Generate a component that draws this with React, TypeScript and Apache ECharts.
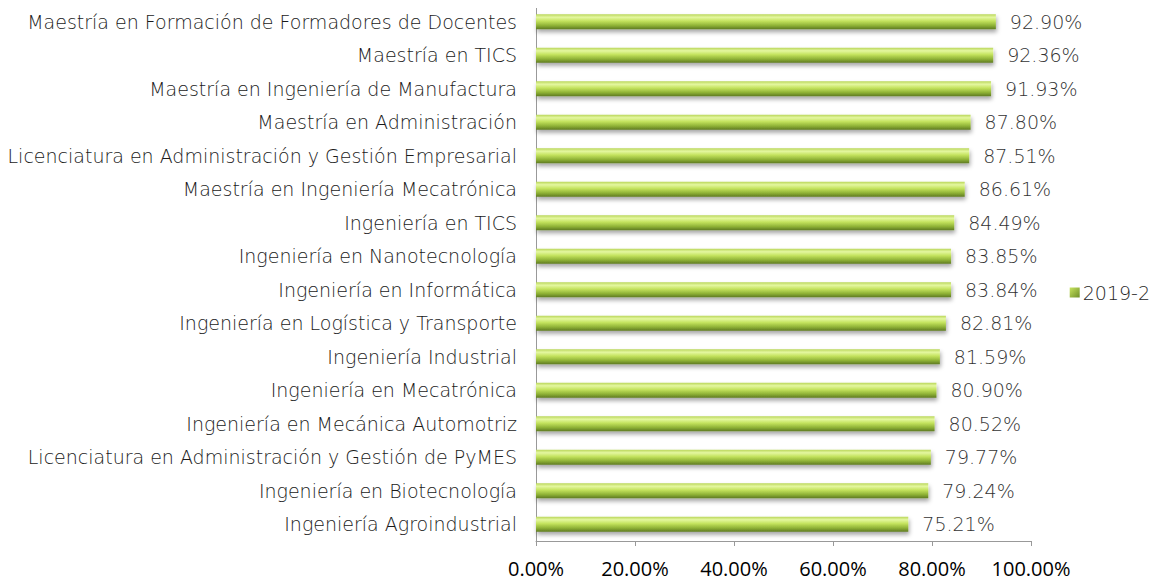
import React, { useEffect, useRef } from "react";
import * as echarts from "echarts";

const categories = [
  "Maestría en Formación de Formadores de Docentes",
  "Maestría en TICS",
  "Maestría en Ingeniería de Manufactura",
  "Maestría en Administración",
  "Licenciatura en Administración y Gestión Empresarial",
  "Maestría en Ingeniería Mecatrónica",
  "Ingeniería en TICS",
  "Ingeniería en Nanotecnología",
  "Ingeniería en Informática",
  "Ingeniería en Logística y Transporte",
  "Ingeniería Industrial",
  "Ingeniería en Mecatrónica",
  "Ingeniería en Mecánica Automotriz",
  "Licenciatura en Administración y Gestión de PyMES",
  "Ingeniería en Biotecnología",
  "Ingeniería Agroindustrial",
];

const values2019_2 = [
  92.9, 92.36, 91.93, 87.8, 87.51, 86.61, 84.49, 83.85, 83.84, 82.81, 81.59,
  80.9, 80.52, 79.77, 79.24, 75.21,
];

const seriesName = "2019-2";
const xTicks = [0, 20, 40, 60, 80, 100];

const lightFont = "DejaVu Sans";

export default function App() {
  const ref = useRef<HTMLDivElement>(null);
  useEffect(() => {
    if (!ref.current) return;
    const chart = echarts.init(ref.current, undefined, { renderer: "svg" });
    const barGrad = new echarts.graphic.LinearGradient(0, 0, 0, 1, [
      { offset: 0, color: "#b9d65a" },
      { offset: 0.2, color: "#e4f7a0" },
      { offset: 0.45, color: "#c4e35e" },
      { offset: 0.75, color: "#8fb236" },
      { offset: 1, color: "#5e7a22" },
    ]);
    const legendGrad = new echarts.graphic.LinearGradient(0, 0, 1, 1, [
      { offset: 0, color: "#c7e35f" },
      { offset: 1, color: "#6f8f28" },
    ]);
    chart.setOption({
      animation: false,
      backgroundColor: "#ffffff",
      grid: { left: 536, right: 128, top: 5, bottom: 45, containLabel: false },
      legend: {
        right: 4,
        top: 278,
        orient: "vertical",
        itemWidth: 10,
        itemHeight: 10,
        icon: "rect",
        itemGap: 4,
        textStyle: { fontFamily: lightFont, fontWeight: 200, fontSize: 19, color: "#262626", padding: [0, 0, 0, -2] },
        data: [{ name: seriesName, itemStyle: { color: legendGrad } }],
      },
      xAxis: {
        type: "value",
        min: 0,
        max: 100,
        interval: 20,
        axisLine: { show: true, lineStyle: { color: "#999999", width: 1 } },
        axisTick: { show: true, length: 5, lineStyle: { color: "#999999" } },
        splitLine: { show: false },
        axisLabel: {
          formatter: (v: number) => (xTicks.includes(v) ? v.toFixed(2) + "%" : ""),
          fontFamily: "Open Sans",
          fontSize: 20,
          color: "#000000",
          margin: 17,
        },
      },
      yAxis: {
        type: "category",
        inverse: true,
        data: categories,
        axisLine: { show: true, lineStyle: { color: "#999999", width: 1 } },
        axisTick: { show: false },
        axisLabel: {
          fontFamily: lightFont,
          fontWeight: 200,
          fontSize: 19,
          color: "#1a1a1a",
          margin: 19,
        },
      },
      series: [
        {
          name: seriesName,
          type: "bar",
          data: values2019_2,
          barWidth: 15,
          itemStyle: {
            color: barGrad,
            shadowColor: "rgba(0,0,0,0.35)",
            shadowBlur: 4,
            shadowOffsetX: 1,
            shadowOffsetY: 3,
          },
          label: {
            show: true,
            position: "right",
            distance: 14,
            formatter: (p: any) => p.value.toFixed(2) + "%",
            fontFamily: lightFont,
            fontWeight: 200,
            fontSize: 19,
            color: "#333333",
          },
        },
      ],
    });
    return () => chart.dispose();
  }, []);
  return <div ref={ref} style={{ width: 1159, height: 586, margin: -8 }} />;
}
